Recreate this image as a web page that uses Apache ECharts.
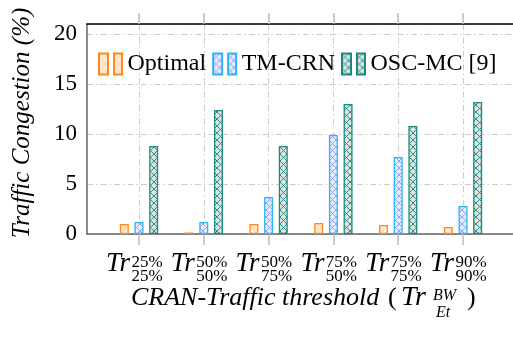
<!DOCTYPE html>
<html><head><meta charset="utf-8">
<script src="https://cdn.jsdelivr.net/npm/echarts@6/dist/echarts.min.js"></script>
<style>html,body{margin:0;padding:0;background:#fff}#c{width:513px;height:339px}</style>
</head><body><div id="c"></div>
<script>
const categories = ['c1', 'c2', 'c3', 'c4', 'c5', 'c6'];
const supLabels = ['25%', '50%', '50%', '75%', '75%', '90%'];
const subLabels = ['25%', '50%', '75%', '50%', '75%', '90%'];
const seriesNames = ['Optimal', 'TM-CRN', 'OSC-MC [9]'];
const optimal = [1.0, 0.15, 1.0, 1.1, 0.9, 0.7];
const tmcrn = [1.2, 1.2, 3.7, 9.9, 7.7, 2.8];
const oscmc = [8.8, 12.4, 8.8, 13.0, 10.8, 13.2];
const yTicks = [0, 5, 10, 15, 20];

function hatch(bg, line) {
  const s = 7, c = document.createElement('canvas');
  c.width = s; c.height = s;
  const g = c.getContext('2d');
  g.fillStyle = bg; g.fillRect(0, 0, s, s);
  g.strokeStyle = line; g.lineWidth = 1;
  g.beginPath();
  g.moveTo(0, 0); g.lineTo(s, s);
  g.moveTo(s, 0); g.lineTo(0, s);
  g.stroke();
  return { image: c, repeat: 'repeat' };
}
const styles = [
  { fill: hatch('#fde0c0', '#fff4e8'), border: '#ff8a1c' },
  { fill: hatch('#e4ecff', '#9a9cff'), border: '#2cb4f4' },
  { fill: hatch('#dfe3e0', '#2a948c'), border: '#1c8a82' }
];
const serif = "'Liberation Serif', 'Times New Roman', serif";
const dashDot = [6, 3, 1.5, 3];
const chart = echarts.init(document.getElementById('c'), null, { renderer: 'canvas' });
const Y_MAX = 21;
const icon = 'path://M0,0H9V21H0Z M15,0H23V21H15Z';

chart.setOption({
  animation: false,
  backgroundColor: '#fff',
  grid: [
    { left: 87, top: 24, width: 430, height: 210, outerBoundsMode: 'none', containLabel: false },
    { left: 139, top: 24, width: 324, height: 210, outerBoundsMode: 'none', containLabel: false }
  ],
  legend: {
    data: seriesNames,
    left: 93, top: 47,
    icon: icon, itemWidth: 24, itemHeight: 21, itemGap: 6,
    textStyle: { fontFamily: serif, fontSize: 24, color: '#000' }
  },
  xAxis: [
    { gridIndex: 0, type: 'value', min: 0, max: 1, position: 'bottom', axisLine: { show: true, lineStyle: { color: '#666', width: 1.5 } },
      axisTick: { show: false }, axisLabel: { show: false }, splitLine: { show: false } },
    { gridIndex: 0, type: 'value', min: 0, max: 1, position: 'top', axisLine: { show: true, lineStyle: { color: '#000', width: 1.5 } },
      axisTick: { show: false }, axisLabel: { show: false }, splitLine: { show: false } },
    { gridIndex: 1, type: 'category', data: categories, boundaryGap: false, position: 'bottom', offset: 0,
      axisLine: { show: false }, axisTick: { show: true, length: 11, lineStyle: { color: '#bbb', width: 1.5 } },
      splitLine: { show: true, lineStyle: { color: '#ccc', type: dashDot, width: 1 } },
      axisLabel: { interval: 0, margin: 16, align: 'center', formatter: () => '{t|Tr}',
        rich: { t: { fontFamily: serif, fontStyle: 'italic', fontSize: 27, color: '#000', padding: [0, 42, 0, 0] } } } },
    { gridIndex: 1, type: 'category', data: supLabels.map((s, i) => i), boundaryGap: false, position: 'bottom', offset: 0,
      axisLine: { show: false }, axisTick: { show: false }, splitLine: { show: false },
      axisLabel: { interval: 0, margin: 20, align: 'center', formatter: (v, i) => '{s|' + supLabels[i] + '}',
        rich: { s: { fontFamily: serif, fontSize: 17, color: '#000', padding: [0, 0, 0, 16] } } } },
    { gridIndex: 1, type: 'category', data: subLabels.map((s, i) => i), boundaryGap: false, position: 'bottom', offset: 0,
      axisLine: { show: false }, axisTick: { show: false }, splitLine: { show: false },
      axisLabel: { interval: 0, margin: 34, align: 'center', formatter: (v, i) => '{s|' + subLabels[i] + '}',
        rich: { s: { fontFamily: serif, fontSize: 17, color: '#000', padding: [0, 0, 0, 16] } } } },
    { gridIndex: 1, type: 'category', data: categories, boundaryGap: false, position: 'top', offset: 0,
      axisLine: { show: false }, axisTick: { show: true, length: 11, lineStyle: { color: '#bbb', width: 1.5 } },
      axisLabel: { show: false }, splitLine: { show: false } }
  ],
  yAxis: [
    { gridIndex: 0, type: 'value', min: 0, max: Y_MAX, interval: 5, position: 'left',
      axisLine: { show: true, lineStyle: { color: '#666', width: 1.5 } }, axisTick: { show: false },
      splitLine: { show: true, lineStyle: { color: '#ccc', type: dashDot, width: 1 } },
      axisLabel: { margin: 10, fontFamily: serif, fontSize: 23, color: '#000',
        formatter: v => yTicks.includes(v) ? String(v) : '' } },
    { gridIndex: 1, type: 'value', min: 0, max: Y_MAX, show: false }
  ],
  series: [optimal, tmcrn, oscmc].map((d, k) => ({
    name: seriesNames[k], type: 'bar', xAxisIndex: 2, yAxisIndex: 1, data: d, clip: false,
    barWidth: 9, barGap: '63%',
    itemStyle: { color: styles[k].fill, borderColor: styles[k].border, borderWidth: 1.3 }
  })),
  graphic: [
    { type: 'text', x: 22, y: 123, rotation: Math.PI / 2,
      style: { text: 'Traffic Congestion (%)', align: 'center', verticalAlign: 'middle', fontFamily: serif, fontStyle: 'italic', fontSize: 25, fill: '#000' } },
    { type: 'text', left: 131, top: 285, style: { text: 'CRAN-Traffic threshold', fontFamily: serif, fontStyle: 'italic', fontSize: 26, fill: '#000' } },
    { type: 'text', left: 388, top: 285, style: { text: '(', fontFamily: serif, fontSize: 26, fill: '#000' } },
    { type: 'text', left: 401, top: 284, style: { text: 'Tr', fontFamily: serif, fontStyle: 'italic', fontSize: 28, fill: '#000' } },
    { type: 'text', left: 433, top: 288, style: { text: 'BW', fontFamily: serif, fontStyle: 'italic', fontSize: 16, fill: '#000' } },
    { type: 'text', left: 436, top: 305, style: { text: 'Et', fontFamily: serif, fontStyle: 'italic', fontSize: 16, fill: '#000' } },
    { type: 'text', left: 467, top: 285, style: { text: ')', fontFamily: serif, fontSize: 26, fill: '#000' } }
  ]
});
</script></body></html>
